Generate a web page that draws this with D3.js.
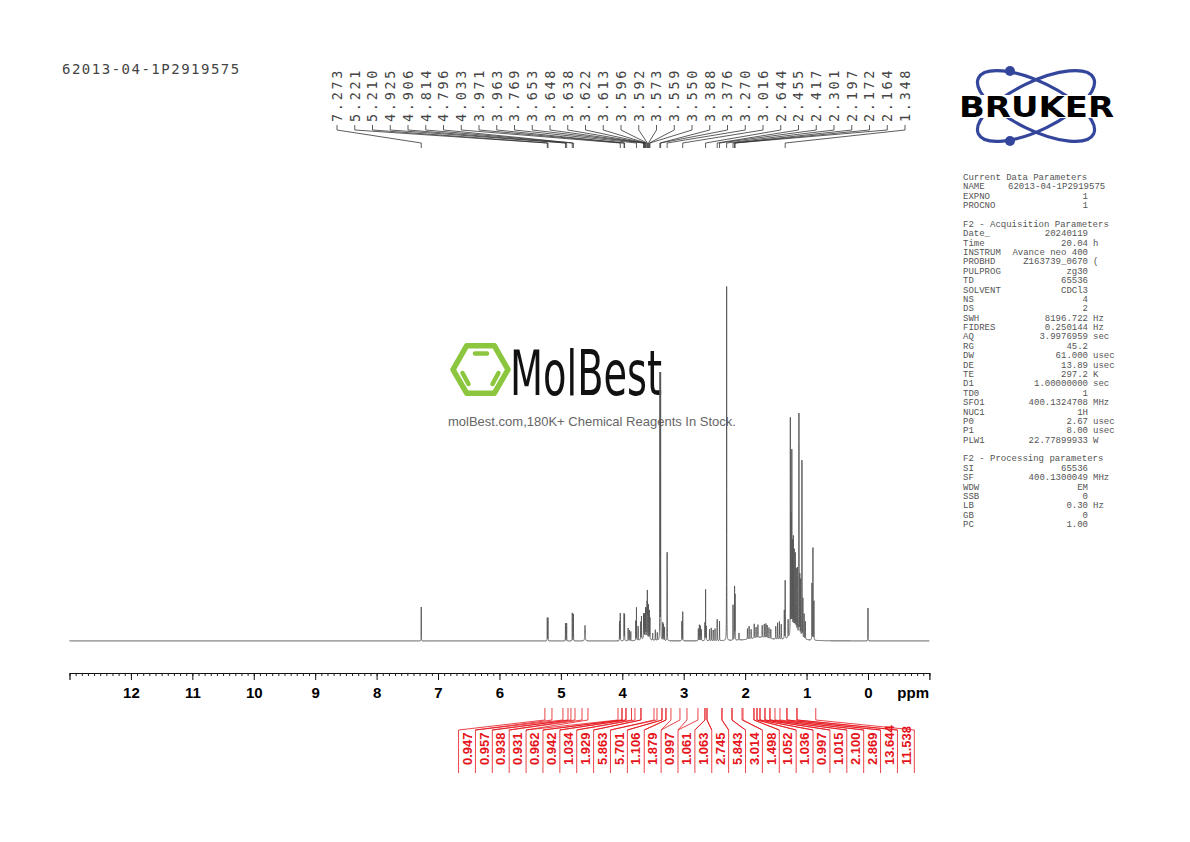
<!DOCTYPE html>
<html>
<head>
<meta charset="utf-8">
<script src="https://cdn.jsdelivr.net/npm/d3@7"></script>
<style>
body { margin: 0; background: #fff; }
</style>
</head>
<body>
<svg width="1190" height="842"></svg>
<script>
var sampleName = "62013-04-1P2919575";

// peak list: shift (ppm), height (tallest = 100), half width (ppm)
var peakShift = [7.273, 5.221, 5.210, 4.925, 4.906, 4.814, 4.796, 4.607, 4.045, 4.033, 3.971, 3.963, 3.905, 3.885, 3.862,
  3.781, 3.769, 3.742, 3.700, 3.688, 3.653, 3.648, 3.638, 3.622, 3.613, 3.596, 3.592, 3.573, 3.559, 3.550, 3.62,
  3.505, 3.462, 3.430, 3.388, 3.376, 3.342, 3.330, 3.312, 3.270, 3.030, 3.016, 2.762, 2.745, 2.728, 2.712,
  2.655, 2.644, 2.632, 2.580, 2.552, 2.520, 2.490, 2.455, 2.417, 2.301, 2.197, 2.172, 2.164, 2.100,
  1.962, 1.935, 1.902, 1.852, 1.822, 1.792, 1.722, 1.688, 1.662, 1.641, 1.612, 1.582, 1.75,
  1.502, 1.472, 1.442, 1.412, 1.362, 1.348, 1.300, 1.264, 1.252, 1.240, 1.228, 1.215, 1.200, 1.184, 1.168,
  1.150, 1.124, 1.110, 1.096, 1.075, 1.060, 1.040, 1.020, 1.19, 0.912, 0.896, 0.880, 0.000];
var peakHeight = [9.6, 6.5, 6.5, 5.0, 5.0, 7.9, 7.6, 4.4, 5.5, 7.8, 7.6, 7.3, 3.6, 3.0, 2.6,
  5.5, 9.3, 4.0, 5.0, 6.5, 6.5, 6.0, 6.5, 8.0, 8.0, 9.0, 12.5, 9.5, 8.0, 6.0, 1.2,
  2.0, 3.0, 2.2, 75, 75, 5.0, 4.6, 3.8, 25, 5.5, 8.2, 3.4, 4.5, 4.2, 3.2,
  5.0, 14.4, 4.0, 3.2, 3.6, 3.0, 3.4, 6.0, 5.5, 100, 10, 15, 12.7, 2.0,
  3.0, 3.6, 2.6, 4.0, 3.0, 3.6, 3.4, 3.8, 4.0, 3.6, 3.0, 2.6, 1.0,
  3.6, 4.6, 5.0, 4.2, 8.0, 16.4, 5.0, 61, 33, 51, 25, 26, 22, 21, 17,
  18, 62.4, 17, 16, 50, 11, 7, 5, 3.5, 16, 26, 11, 9.3];
var peakWidth = [0.0013, 0.0013, 0.0013, 0.0013, 0.0013, 0.0013, 0.0013, 0.004, 0.0013, 0.0013, 0.0013, 0.0013, 0.0015, 0.0015, 0.0015,
  0.0013, 0.0013, 0.0015, 0.0015, 0.0015, 0.0013, 0.0013, 0.0013, 0.0013, 0.0013, 0.0013, 0.0013, 0.0013, 0.0013, 0.0013, 0.05,
  0.002, 0.002, 0.002, 0.0013, 0.0013, 0.0015, 0.0015, 0.0015, 0.0013, 0.0013, 0.0013, 0.0015, 0.0015, 0.0015, 0.0015,
  0.0013, 0.0013, 0.0013, 0.0015, 0.0015, 0.0015, 0.0015, 0.0013, 0.0013, 0.0013, 0.0013, 0.0013, 0.0013, 0.002,
  0.0018, 0.0018, 0.0018, 0.0018, 0.0018, 0.0018, 0.0018, 0.0018, 0.0018, 0.0018, 0.0018, 0.0018, 0.2,
  0.0018, 0.0018, 0.0018, 0.0018, 0.0013, 0.0013, 0.0018, 0.0013, 0.0013, 0.0013, 0.0013, 0.0013, 0.0013, 0.0013, 0.0013,
  0.0013, 0.0013, 0.0013, 0.0013, 0.0013, 0.0013, 0.0015, 0.0015, 0.06, 0.0013, 0.0013, 0.0013, 0.0012];

var shiftLabels = ["7.273", "5.221", "5.210", "4.925", "4.906", "4.814", "4.796", "4.033", "3.971", "3.963", "3.769",
  "3.653", "3.648", "3.638", "3.622", "3.613", "3.596", "3.592", "3.573", "3.559", "3.550", "3.388", "3.376",
  "3.270", "3.016", "2.644", "2.455", "2.417", "2.301", "2.197", "2.172", "2.164", "1.348"];

var integralValues = ["0.947", "0.957", "0.938", "0.931", "0.962", "0.942", "1.034", "1.929", "5.863", "5.701",
  "1.106", "1.879", "0.997", "1.061", "1.063", "2.745", "5.843", "3.014", "1.498", "1.052", "1.036", "0.997",
  "1.015", "2.100", "2.869", "13.644", "11.538"];
var integralFrom = [5.26, 4.966, 4.836, 4.656, 4.07, 4.005, 3.94, 3.794, 3.696, 3.435, 3.354, 3.289, 3.061, 2.768,
  2.654, 2.621, 2.377, 2.214, 2.035, 1.856, 1.807, 1.758, 1.677, 1.596, 1.433, 1.319, 1.156];
var integralTo = [5.145, 4.884, 4.770, 4.559, 4.005, 3.94, 3.85, 3.696, 3.484, 3.354, 3.289, 3.208, 2.947, 2.654,
  2.621, 2.377, 2.214, 2.051, 1.856, 1.807, 1.758, 1.677, 1.596, 1.514, 1.319, 1.156, 0.85];

var axisLabels = [12, 11, 10, 9, 8, 7, 6, 5, 4, 3, 2, 1, 0];

var paramRows = [
  ["Current Data Parameters"],
  ["NAME", "62013-04-1P2919575", ""],
  ["EXPNO", "1", ""],
  ["PROCNO", "1", ""],
  [],
  ["F2 - Acquisition Parameters"],
  ["Date_", "20240119", ""],
  ["Time", "20.04", "h"],
  ["INSTRUM", "Avance neo 400", ""],
  ["PROBHD", "Z163739_0670", "("],
  ["PULPROG", "zg30", ""],
  ["TD", "65536", ""],
  ["SOLVENT", "CDCl3", ""],
  ["NS", "4", ""],
  ["DS", "2", ""],
  ["SWH", "8196.722", "Hz"],
  ["FIDRES", "0.250144", "Hz"],
  ["AQ", "3.9976959", "sec"],
  ["RG", "45.2", ""],
  ["DW", "61.000", "usec"],
  ["DE", "13.89", "usec"],
  ["TE", "297.2", "K"],
  ["D1", "1.00000000", "sec"],
  ["TD0", "1", ""],
  ["SFO1", "400.1324708", "MHz"],
  ["NUC1", "1H", ""],
  ["P0", "2.67", "usec"],
  ["P1", "8.00", "usec"],
  ["PLW1", "22.77899933", "W"],
  [],
  ["F2 - Processing parameters"],
  ["SI", "65536", ""],
  ["SF", "400.1300049", "MHz"],
  ["WDW", "EM", ""],
  ["SSB", "0", ""],
  ["LB", "0.30", "Hz"],
  ["GB", "0", ""],
  ["PC", "1.00", ""]
];

var svg = d3.select("svg");
var red = "#e5141b";

var x = d3.scaleLinear().domain([13, -1]).range([69.5, 929.4]);
var y = d3.scaleLinear().domain([0, 100]).range([641, 287]);

// header
svg.append("text")
  .attr("x", 62).attr("y", 74)
  .attr("font-family", "DejaVu Sans Mono").attr("font-size", 14)
  .attr("letter-spacing", 1.5).attr("fill", "#444")
  .text(sampleName);

// MolBest watermark
var wm = svg.append("g");
var hexR = 27.5, hx = 480.5, hy = 369.5;
wm.append("polygon")
  .attr("points", d3.range(6).map(function (k) {
    var a = k * Math.PI / 3;
    return [hx + hexR * Math.cos(a), hy + hexR * Math.sin(a)].join(",");
  }).join(" "))
  .attr("fill", "none").attr("stroke", "#8cc63f").attr("stroke-width", 5.5)
  .attr("stroke-linejoin", "round");
[[475, 353.5, 487, 353.5], [462.5, 373, 468.5, 384], [492.5, 384, 498.5, 373]].forEach(function (s) {
  wm.append("line").attr("x1", s[0]).attr("y1", s[1]).attr("x2", s[2]).attr("y2", s[3])
    .attr("stroke", "#8cc63f").attr("stroke-width", 4.5).attr("stroke-linecap", "round");
});
wm.append("text")
  .attr("x", 510).attr("y", 395)
  .attr("font-family", "DejaVu Sans Condensed, DejaVu Sans").attr("font-size", 62)
  .attr("textLength", 152).attr("lengthAdjust", "spacingAndGlyphs")
  .attr("fill", "#111").text("MolBest");
wm.append("text")
  .attr("x", 448).attr("y", 426)
  .attr("font-family", "Liberation Sans, Arial").attr("font-size", 13)
  .attr("fill", "#666").text("molBest.com,180K+ Chemical Reagents In Stock.");

// Bruker logo
var logo = svg.append("g");
[26, -26].forEach(function (r) {
  logo.append("ellipse")
    .attr("cx", 1036).attr("cy", 106).attr("rx", 64).attr("ry", 24)
    .attr("transform", "rotate(" + r + ",1036,106)")
    .attr("fill", "none").attr("stroke", "#34469c").attr("stroke-width", 3.2);
});
[[1010, 71], [1010, 141]].forEach(function (p) {
  logo.append("circle").attr("cx", p[0]).attr("cy", p[1]).attr("r", 5).attr("fill", "#34469c");
});
logo.append("rect").attr("x", 958).attr("y", 95).attr("width", 158).attr("height", 23).attr("fill", "#fff");
logo.append("text")
  .attr("x", 959).attr("y", 117)
  .attr("font-family", "DejaVu Sans").attr("font-weight", "bold").attr("font-size", 28)
  .attr("textLength", 155).attr("lengthAdjust", "spacingAndGlyphs")
  .attr("fill", "#000").text("BRUKER");

// parameter panel
var pg = svg.append("g")
  .attr("font-family", "Liberation Mono, monospace").attr("font-size", 9).attr("fill", "#555");
paramRows.forEach(function (row, i) {
  var yy = 180 + i * 9.38;
  if (row.length === 0) return;
  pg.append("text").attr("x", 963).attr("y", yy).text(row[0]);
  if (row.length > 1) {
    if (row[1].length > 14) {
      pg.append("text").attr("x", 1008).attr("y", yy).text(row[1]);
    } else {
      pg.append("text").attr("x", 1088).attr("y", yy).attr("text-anchor", "end").text(row[1]);
    }
    if (row[2]) pg.append("text").attr("x", 1093).attr("y", yy).text(row[2]);
  }
});

// spectrum
var grid = d3.range(13, -1, -0.0005);
var spectrum = grid.map(function (p) {
  var s = 0;
  for (var k = 0; k < peakShift.length; k++) {
    var d = p - peakShift[k], w = peakWidth[k];
    s += peakHeight[k] * w * w / (w * w + d * d);
  }
  return [p, s];
});
svg.append("path")
  .datum(spectrum)
  .attr("fill", "none").attr("stroke", "#555").attr("stroke-width", 0.9)
  .attr("d", d3.line().x(function (d) { return x(d[0]); }).y(function (d) { return y(d[1]); }));

// peak labels with connectors
var labelX = function (i) { return 337 + i * 17.75; };
var lg = svg.append("g");
shiftLabels.forEach(function (t, i) {
  var lx = labelX(i), px = x(+t);
  lg.append("text")
    .attr("transform", "translate(" + lx + ",122) rotate(-90)")
    .attr("dy", "0.36em")
    .attr("font-family", "DejaVu Sans Mono").attr("font-size", 13.5)
    .attr("letter-spacing", 2.7).attr("fill", "#444")
    .text(t);
  lg.append("path")
    .attr("d", "M" + lx + ",125V130L" + px + ",143V148")
    .attr("fill", "none").attr("stroke", "#333").attr("stroke-width", 0.8);
});

// axis
var axisY = 673;
var minor = d3.range(-10, 131).map(function (v) { return v / 10; });
svg.append("g")
  .attr("transform", "translate(0," + axisY + ")")
  .call(d3.axisBottom(x).tickValues(minor).tickSize(3).tickSizeOuter(0).tickFormat(""))
  .call(function (g) { g.select(".domain").remove(); g.selectAll("line").attr("stroke", "#222"); });
svg.append("g")
  .attr("transform", "translate(0," + axisY + ")")
  .call(d3.axisBottom(x).tickValues(axisLabels).tickSize(7).tickSizeOuter(7).tickPadding(7.3).tickFormat(d3.format("d")))
  .call(function (g) {
    g.select(".domain").attr("stroke", "#111").attr("stroke-width", 1.2);
    g.selectAll("line").attr("stroke", "#111");
    g.selectAll("text").attr("font-family", "Liberation Sans, Arial").attr("font-weight", "bold")
      .attr("font-size", 15).attr("fill", "#000");
  });
svg.append("text")
  .attr("x", 929).attr("y", 698).attr("text-anchor", "end")
  .attr("font-family", "Liberation Sans, Arial").attr("font-weight", "bold").attr("font-size", 15)
  .text("ppm");

// integrals
var ig = svg.append("g").attr("stroke", red).attr("stroke-width", 0.8).attr("fill", "none");
var intX = function (i) { return 467 + i * 16.88; };
var edgeX = function (j) { return 467 - 8.44 + j * 16.88; };
integralValues.forEach(function (v, i) {
  var a = x(integralFrom[i]), b = x(integralTo[i]);
  ig.append("path").attr("d", "M" + a + ",708V720L" + edgeX(i) + ",730");
  ig.append("path").attr("d", "M" + b + ",708V720L" + edgeX(i + 1) + ",730");
  svg.append("text")
    .attr("transform", "translate(" + intX(i) + ",765) rotate(-90)")
    .attr("dy", "0.36em")
    .attr("font-family", "Liberation Sans, Arial").attr("font-weight", "bold").attr("font-size", 13)
    .attr("fill", red).text(v);
});
d3.range(integralValues.length + 1).forEach(function (j) {
  ig.append("line").attr("x1", edgeX(j)).attr("x2", edgeX(j)).attr("y1", 730).attr("y2", 773);
});
</script>
</body>
</html>
